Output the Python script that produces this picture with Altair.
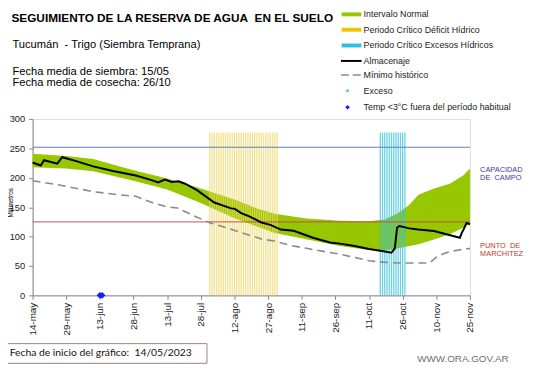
import json
import altair as alt
import pandas as pd

# ---------------- data (days counted from 14-may-2023) ----------------
tick_days = [0, 15, 30, 45, 60, 75, 90, 105, 120, 135, 150, 165, 180, 195]
tick_labels = ["14-may", "29-may", "13-jun", "28-jun", "13-jul", "28-jul", "12-ago",
               "27-ago", "11-sep", "26-sep", "11-oct", "26-oct", "10-nov", "25-nov"]
y_ticks = [0, 50, 100, 150, 200, 250, 300]

# Intervalo normal (banda)
band_day = [0, 15, 27, 45, 60, 75, 90, 100, 108, 122, 137, 150, 157, 163, 168, 172, 179, 186, 192, 195]
band_low = [218, 216, 211, 195, 180, 157, 131, 117, 106, 95.5, 84, 77, 76, 80, 84, 87, 95, 104, 115, 123]
band_high = [241, 237, 232, 213, 199, 182, 163, 148, 139, 130.6, 127, 126, 129, 140, 154, 171, 182, 190, 204, 216]

# Almacenaje
alm_day = [0, 3.6, 5.1, 11, 13.2, 19.8, 27, 35.8, 46, 53, 56, 59, 62, 65, 68, 73.3, 81, 88.5, 90,
           93, 96.6, 102, 106, 110.7, 116.4, 125, 132.6, 137, 143.6, 150, 155, 160, 161.5, 162.5,
           163.5, 168, 172, 179, 190.5, 191.3, 192, 193.5, 195]
alm_val = [226, 221, 230, 224, 235, 228, 219.5, 211.5, 204, 196, 192, 197, 193, 194, 190, 179, 158,
           148, 147.5, 140, 134.5, 124, 120, 112, 110, 98, 90, 88, 84, 79, 76, 72.5, 80, 115,
           118, 114, 112, 109.5, 98, 106, 111, 123, 121]

# Minimo historico
min_day = [0, 12.4, 27, 38.8, 46, 54, 59.4, 64.6, 73.3, 79, 88, 93, 102, 107.6, 115, 122, 137,
           150, 156, 163, 177, 180, 184, 188, 195]
min_val = [195, 187.5, 176.5, 171, 168.5, 157, 151, 148.5, 133, 123.5, 113, 106.7, 96, 92.6, 85,
           80, 70, 59, 56.5, 55, 55, 65, 72, 76, 80]

# Periodos criticos (dias marcados)
deficit_days = list(range(79, 110))     # 01/08 - 31/08
excess_days = list(range(155, 167))     # 16/10 - 27/10
period_top = 277

# Temp < 3 C fuera del periodo habitual
temp_days = [30, 31]
temp_vals = [0, 0]

capacidad_campo = 252
punto_marchitez = 125

# ---------------- tables ----------------
band = pd.DataFrame({"d": band_day, "lo": band_low, "hi": band_high})
alm = pd.DataFrame({"d": alm_day, "v": alm_val})
mn = pd.DataFrame({"d": min_day, "v": min_val})
dfc = pd.DataFrame({"d": deficit_days, "top": [period_top] * len(deficit_days),
                    "base": [0] * len(deficit_days)})
exc = pd.DataFrame({"d": excess_days, "top": [period_top] * len(excess_days),
                    "base": [0] * len(excess_days)})
tmp = pd.DataFrame({"d": temp_days, "v": temp_vals})
cap = pd.DataFrame({"v": [capacidad_campo]})
pm = pd.DataFrame({"v": [punto_marchitez]})
dummy = pd.DataFrame({"a": [0]})

FONT = "Liberation Sans"
GREEN = "#97c700"
YELLOW = "#ecd868"
CYAN = "#39c2dc"
RED = "#c0504d"
BLUE_LINE = "#5b7bc4"
NB = "\u00a0"

label_expr = json.dumps(tick_labels) + "[round(datum.value/15)]"

xscale = alt.Scale(domain=[0, 195], nice=False, zero=False)
yscale = alt.Scale(domain=[0, 300], nice=False)

xaxis = alt.Axis(values=tick_days, labelExpr=label_expr, labelAngle=-90, labelFontSize=10,
                 labelFont=FONT, labelColor="#222", tickSize=4, labelPadding=3,
                 labelOverlap=False, labelFlush=False,
                 domainColor="#888", tickColor="#888", grid=False, title=None)
yaxis = alt.Axis(values=y_ticks, labelFontSize=9.5, labelFont=FONT,
                 labelColor="#222", tickSize=4, labelPadding=4, labelOverlap=False,
                 labelFlush=False, domainColor="#888",
                 tickColor="#888", grid=False, title=None)

band_layer = alt.Chart(band).mark_area(color=GREEN, opacity=1).encode(
    x=alt.X("d:Q", scale=xscale, axis=xaxis),
    y=alt.Y("lo:Q", scale=yscale, axis=yaxis),
    y2="hi:Q",
)

dfc_layer = alt.Chart(dfc).mark_rule(color=YELLOW, strokeWidth=1.3, opacity=0.75).encode(
    x=alt.X("d:Q", axis=xaxis), y=alt.Y("top:Q", axis=yaxis), y2="base:Q")
exc_layer = alt.Chart(exc).mark_rule(color=CYAN, strokeWidth=1.3, opacity=0.75).encode(
    x=alt.X("d:Q", axis=xaxis), y=alt.Y("top:Q", axis=yaxis), y2="base:Q")

cap_layer = alt.Chart(cap).mark_rule(color=BLUE_LINE, strokeWidth=1).encode(
    y=alt.Y("v:Q", axis=yaxis))
pm_layer = alt.Chart(pm).mark_rule(color=RED, strokeWidth=1).encode(
    y=alt.Y("v:Q", axis=yaxis))

min_layer = alt.Chart(mn).mark_line(color="#8a8a8a", strokeWidth=1.6, strokeDash=[8, 5]).encode(
    x=alt.X("d:Q", axis=xaxis), y=alt.Y("v:Q", axis=yaxis))
alm_layer = alt.Chart(alm).mark_line(color="#000000", strokeWidth=2).encode(
    x=alt.X("d:Q", axis=xaxis), y=alt.Y("v:Q", axis=yaxis))
tmp_layer = alt.Chart(tmp).mark_point(shape="diamond", filled=True, color="#1a1aff", size=45,
                                      opacity=1).encode(
    x=alt.X("d:Q", axis=xaxis), y=alt.Y("v:Q", axis=yaxis))


def txt(s, x, y, size=11, color="#000", weight="normal", font=FONT, align="left", angle=0):
    return alt.Chart(dummy).mark_text(text=s, align=align, baseline="middle", fontSize=size,
                                      color=color, fontWeight=weight, font=font,
                                      angle=angle).encode(x=alt.value(x), y=alt.value(y))


def hline(x1, x2, y, color, width, dash=None):
    kw = dict(color=color, strokeWidth=width)
    if dash:
        kw["strokeDash"] = dash
    return alt.Chart(dummy).mark_rule(**kw).encode(x=alt.value(x1), x2=alt.value(x2), y=alt.value(y))


texts = [
    txt("SEGUIMIENTO DE LA RESERVA DE AGUA" + NB + " EN EL SUELO", -21.5, -102.3, size=12, weight="bold"),
    txt("Tucumán" + NB + " - Trigo (Siembra Temprana)", -20.5, -75.3, size=11.3),
    txt("Fecha media de siembra: 15/05", -20.5, -47.6, size=11.3),
    txt("Fecha media de cosecha: 26/10", -20.5, -36.3, size=11.3),
    txt("Milímetros", -21.8, 85, size=6.5, angle=270, align="center"),
    txt("CAPACIDAD", 454.3, 52, size=7.5, color="#3a3aa8"),
    txt("DE" + NB + " CAMPO", 454.3, 60.3, size=7.5, color="#3a3aa8"),
    txt("PUNTO" + NB + " DE", 454.3, 128.7, size=7.5, color="#c0392b"),
    txt("MARCHITEZ", 454.3, 137, size=7.5, color="#c0392b"),
    txt("WWW.ORA.GOV.AR", 390.4, 243.7, size=10, color="#707070"),
]

# legend
leg_rows = [-106.3, -90.7, -74.7, -59, -44.7, -28.7, -12]
leg_labels = ["Intervalo Normal", "Periodo Crítico Déficit Hídrico", "Periodo Crítico Excesos Hídricos",
              "Almacenaje", "Mínimo histórico", "Exceso", "Temp <3°C fuera del período habitual"]
legend = [
    hline(313.7, 333.7, leg_rows[0], GREEN, 4),
    hline(313.7, 333.7, leg_rows[1], "#f2c200", 4),
    hline(313.7, 333.7, leg_rows[2], "#2fbfe6", 4),
    hline(313.0, 334.0, leg_rows[3], "#000", 2),
    hline(313.0, 334.0, leg_rows[4], "#8a8a8a", 1.6, dash=[8, 4]),
    alt.Chart(dummy).mark_point(shape="square", filled=True, color="#39c2dc", size=6, opacity=1).encode(
        x=alt.value(319.7), y=alt.value(leg_rows[5])),
    alt.Chart(dummy).mark_point(shape="diamond", filled=True, color="#1a1aff", size=22, opacity=1).encode(
        x=alt.value(319.7), y=alt.value(leg_rows[6])),
]
for lab, yy in zip(leg_labels, leg_rows):
    legend.append(txt(lab, 336, yy, size=9, color="#222"))

box = alt.Chart(dummy).mark_rect(fill="white", stroke="#9e8080", strokeWidth=1).encode(
    x=alt.value(-29), x2=alt.value(177), y=alt.value(228), y2=alt.value(248))
box_text = txt("Fecha de inicio del gráfico:" + NB + " 14/05/2023", -23.3, 238, size=10.5,
               font="Lato", color="#111")

chart = alt.layer(
    band_layer, dfc_layer, exc_layer, cap_layer, pm_layer, min_layer, alm_layer, tmp_layer,
    *texts, *legend, box, box_text
).properties(
    width=444, height=179,
    autosize=alt.AutoSizeParams(type="none"),
    padding={"left": 25, "top": 110, "right": 64, "bottom": 71},
).configure_view(stroke=None).configure_axis(
    labelOverlap=False, labelFlush=False
).configure(background="white")

chart.save("out.html", embed_options={"renderer": "svg", "actions": False})
